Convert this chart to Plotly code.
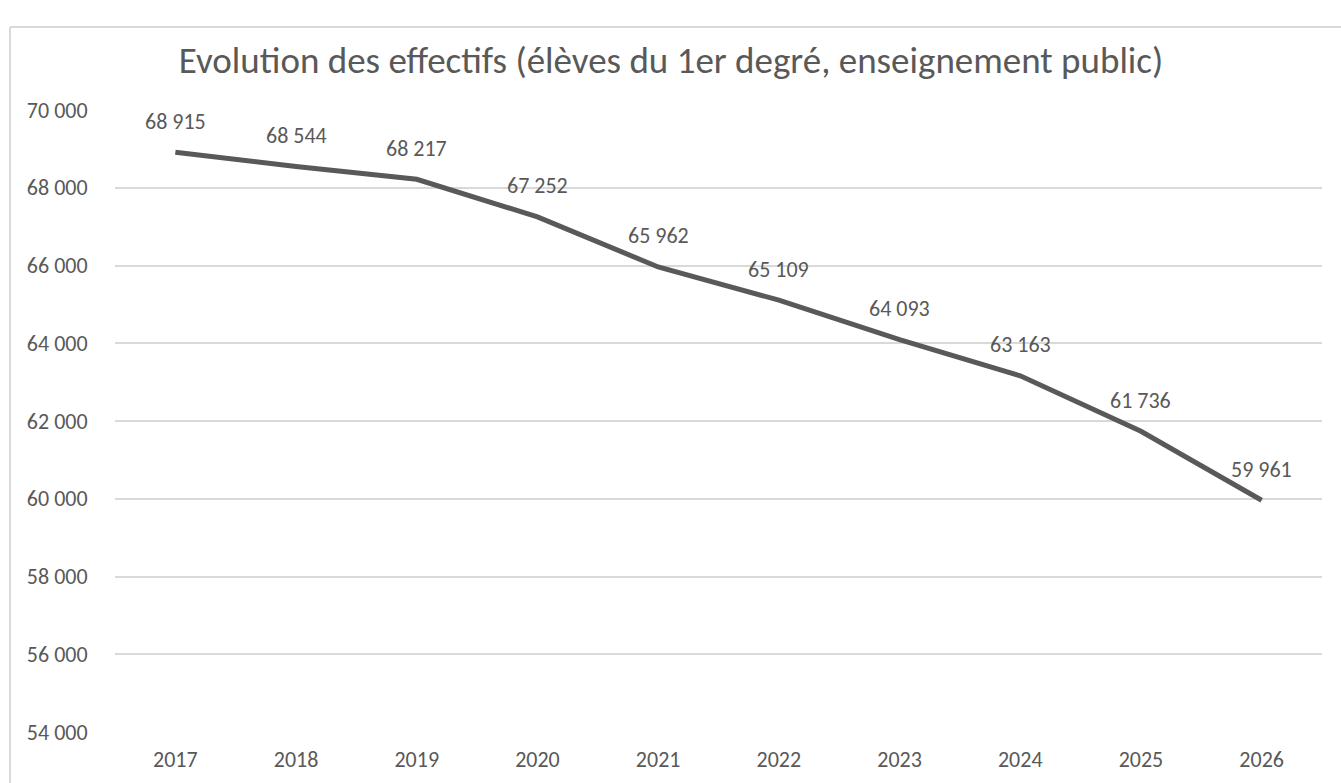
import plotly.graph_objects as go

years = ["2017", "2018", "2019", "2020", "2021", "2022", "2023", "2024", "2025", "2026"]
effectifs = [68915, 68544, 68217, 67252, 65962, 65109, 64093, 63163, 61736, 59961]
y_ticks = [54000, 56000, 58000, 60000, 62000, 64000, 66000, 68000, 70000]

W, H = 1341, 783
L, R, T, B = 115, 19, 110, 51
pw, ph = W - L - R, H - T - B
FONT = "Carlito, Lato, sans-serif"
GREY = "#595959"

def fmt(v):
    return f"{v:,}".replace(",", " ")

fig = go.Figure()
fig.add_trace(go.Scatter(
    x=years, y=effectifs, mode="lines",
    line=dict(color=GREY, width=5),
    hoverinfo="skip", showlegend=False,
))
for i, v in enumerate(effectifs):
    fig.add_annotation(x=i, y=v, text=fmt(v), showarrow=False,
                       yshift=31, font=dict(family=FONT, size=22, color=GREY))

def px_x(px):
    return (px - L) / pw

def px_y(py):
    return (H - B - py) / ph

fig.add_shape(type="line", xref="paper", yref="paper",
              x0=px_x(10), x1=px_x(W + 5), y0=px_y(27), y1=px_y(27),
              line=dict(color="#d9d9d9", width=2))
fig.add_shape(type="line", xref="paper", yref="paper",
              x0=px_x(10), x1=px_x(10), y0=px_y(27), y1=px_y(H + 5),
              line=dict(color="#d9d9d9", width=2))

fig.update_layout(
    width=W, height=H,
    margin=dict(l=L, r=R, t=T, b=B, autoexpand=False),
    paper_bgcolor="white", plot_bgcolor="white",
    title=dict(text="Evolution des effectifs (élèves du 1er degré, enseignement public)",
               x=671 / W, xref="container", xanchor="center", y=1 - 60 / H, yanchor="middle",
               font=dict(family=FONT, size=37, color=GREY)),
    font=dict(family=FONT, color=GREY, size=22),
    xaxis=dict(type="category", range=[-0.5, 9.5], automargin=False,
               showgrid=False, zeroline=False, showline=False,
               ticks="outside", ticklen=8, tickcolor="rgba(0,0,0,0)",
               tickfont=dict(family=FONT, size=22, color=GREY)),
    yaxis=dict(range=[54000, 70000], tickvals=y_ticks, automargin=False,
               ticktext=[fmt(v) for v in y_ticks],
               showgrid=True, gridcolor="#d9d9d9", gridwidth=1.5,
               zeroline=False, showline=False,
               ticks="outside", ticklen=22, tickcolor="rgba(0,0,0,0)",
               tickfont=dict(family=FONT, size=22, color=GREY)),
)

fig.write_html("out.html", config={"displayModeBar": False},
               post_script="document.body.style.margin='0px';")
